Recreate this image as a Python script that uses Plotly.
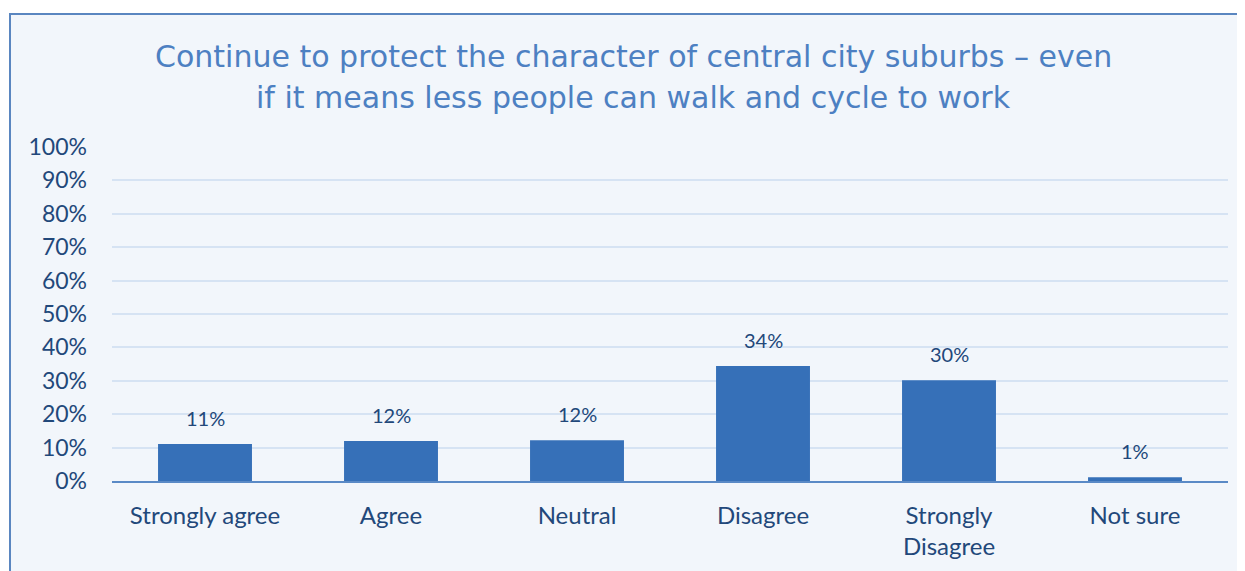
import plotly.graph_objects as go

categories = ["Strongly agree", "Agree", "Neutral", "Disagree", "Strongly<br>Disagree", "Not sure"]
values = [11.1, 12.0, 12.2, 34.4, 30.2, 1.1]
labels = ["11%", "12%", "12%", "34%", "30%", "1%"]
y_ticks = list(range(0, 101, 10))
y_tick_labels = [f"{v}%" for v in y_ticks]
title_lines = ["Continue to protect the character of central city suburbs – even",
               "if it means less people can walk and cycle to work"]

OFF = 8  # default page body margin
W, H = 1245 - OFF, 571 - OFF
L, T = 112 - OFF, 147 - OFF
R, B = 17, 90
pw, ph = W - L - R, H - T - B

def px_x(x):
    return (x - OFF - L) / pw

def px_y(y):
    return (H - B - (y - OFF)) / ph

fig = go.Figure()
fig.add_trace(go.Bar(
    x=categories, y=values,
    marker=dict(color="#3670B8", line=dict(width=0)),
    width=0.505,
    hoverinfo="skip",
))

for c, v, t in zip(categories, values, labels):
    fig.add_annotation(x=c, y=v, text=t, showarrow=False, yanchor="bottom",
                       yshift=12, font=dict(family="Lato, Carlito, sans-serif", size=20, color="#22487A"))

for line, yc in zip(title_lines, [56, 97]):
    fig.add_annotation(xref="paper", yref="paper", x=px_x(633), y=px_y(yc),
                       text=line, showarrow=False, xanchor="center", yanchor="middle",
                       font=dict(family="DejaVu Sans, sans-serif", size=30, color="#4D80C2"))

# chart frame
fig.add_shape(type="rect", xref="paper", yref="paper",
              x0=px_x(10), x1=px_x(1280),
              y0=px_y(600), y1=px_y(14),
              fillcolor="#F2F6FB", line=dict(color="#5A86C0", width=2), layer="below")

fig.update_layout(
    width=W, height=H,
    margin=dict(l=L, r=R, t=T, b=B, pad=0),
    paper_bgcolor="white", plot_bgcolor="rgba(0,0,0,0)",
    showlegend=False,
    xaxis=dict(showgrid=False, showline=True, linecolor="#5A8AC6", linewidth=2,
               ticks="", tickfont=dict(family="Lato, Carlito, sans-serif", size=24, color="#22487A"),
               ticklabelstandoff=12, fixedrange=True),
    yaxis=dict(range=[0, 100], tickvals=y_ticks, ticktext=y_tick_labels,
               showgrid=True, gridcolor="#D6E3F3", gridwidth=2, zeroline=False,
               tickfont=dict(family="Lato, Carlito, sans-serif", size=23, color="#22487A"),
               ticklabelstandoff=24, fixedrange=True),
)

fig.write_html("out.html", config={"displayModeBar": False})
